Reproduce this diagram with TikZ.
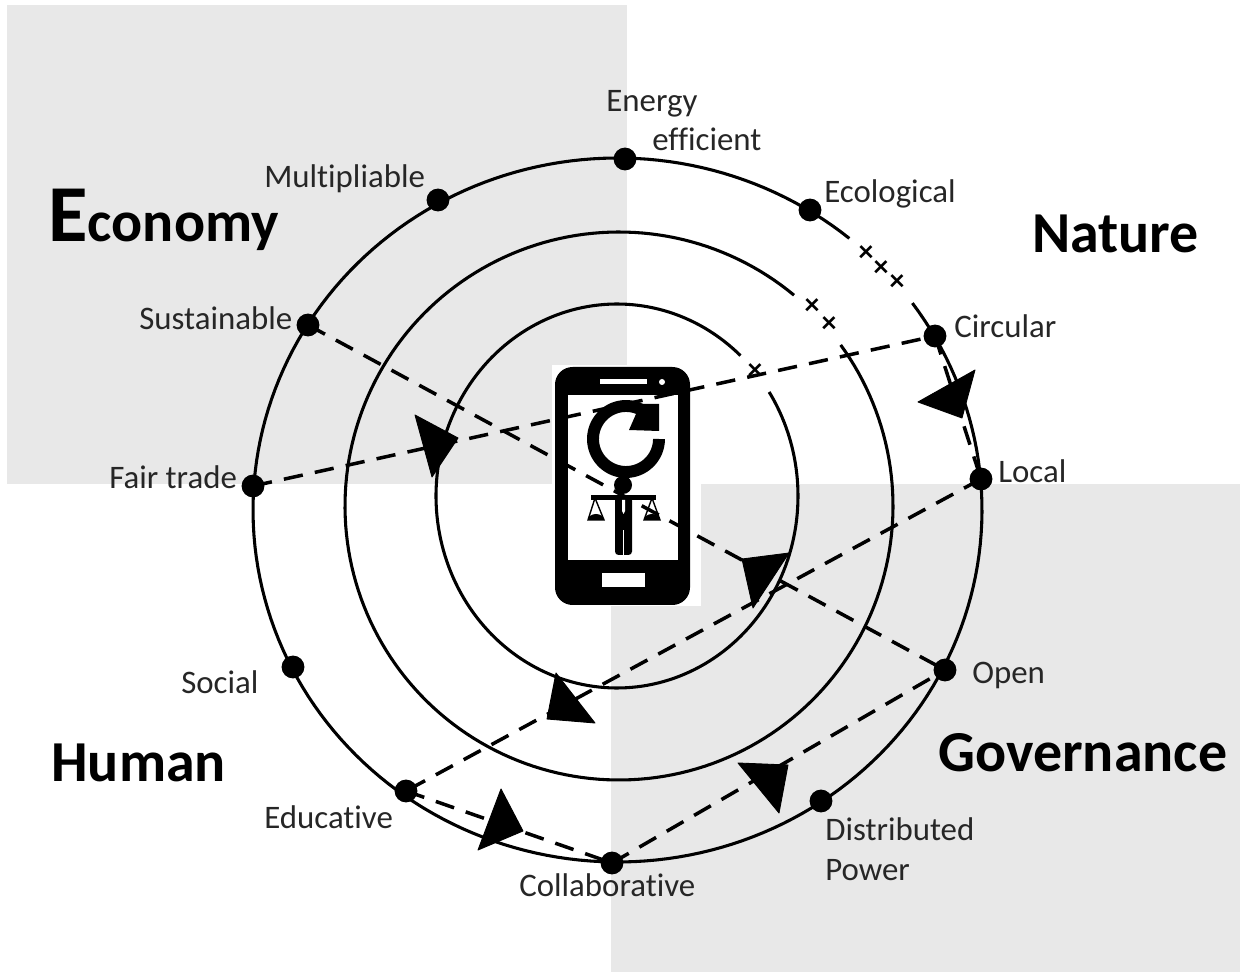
\documentclass[tikz,border=0pt]{standalone}
\usepackage{fontspec}
\setmainfont{Carlito}[Ligatures=NoCommon]
\definecolor{panel}{HTML}{E8E8E8}
\definecolor{ink}{HTML}{262626}
\tikzset{
  ring/.style={line width=1.75pt,black},
  dot/.style={circle,fill=black,inner sep=0pt,minimum size=13pt},
  link/.style={line width=2pt,black,dash pattern=on 11pt off 7pt},
  tip/.style={fill=black,draw=black,line width=.5pt,line join=round},
  lab/.style={anchor=base west,inner sep=0pt,yshift=-0.025cm,text=ink,font=\fontsize{18.7}{20}\selectfont},
  head/.style={anchor=base west,inner sep=0pt,yshift=-0.04cm,text=black,font=\fontsize{33}{36}\selectfont\bfseries},
  tick/.style={font=\bfseries\fontsize{17}{17}\selectfont,inner sep=0pt},
}
\begin{document}
\begin{tikzpicture}[x=0.02cm,y=-0.02cm]
\useasboundingbox (0,0) rectangle (1241,972);
% panels
\fill[panel] (7,5) rectangle (627,484);
\fill[panel] (611,484) rectangle (1240,972);
\fill[white] (552,365) rectangle (701,606);
% rings
\draw[ring,domain=-36:309.5,samples=200] plot ({617.5+364.5*cos(\x)},{510+352*sin(\x)});
\draw[ring,domain=-36:309.7,samples=200] plot ({619+274*cos(\x)},{506+274*sin(\x)});
\draw[ring,domain=-32.8:313,samples=200] plot ({617+181*cos(\x)},{496+192*sin(\x)});
% gap marks
\foreach \p in {(866,254),(881,269),(897,283),(812,307),(829,325),(755,372)}
  \node[tick] at \p {×};
% dots
\node[dot] (energy) at (625,159) {};
\node[dot] (multi) at (438,200) {};
\node[dot] (eco) at (810,210) {};
\node[dot] (sust) at (308,325) {};
\node[dot] (circ) at (935,336) {};
\node[dot] (fair) at (253,486) {};
\node[dot] (local) at (981,479) {};
\node[dot] (social) at (293,667) {};
\node[dot] (open) at (945,670) {};
\node[dot] (edu) at (406,791) {};
\node[dot] (dist) at (821,801) {};
\node[dot] (coll) at (612,863) {};
% phone body
\fill[black,rounded corners=10pt] (555,367) rectangle (690,605);
\fill[white] (568,395) rectangle (678,560);
\fill[white] (600,379) rectangle (647,384);
\fill[white] (662,382) circle (3);
\fill[white] (602,573) rectangle (645,587);
% links
\draw[link] (sust.center) -- (open.center);
\draw[link] (fair.center) -- (circ.center);
\draw[link] (circ.center) -- (local.center);
\draw[link] (local.center) -- (edu.center);
\draw[link] (edu.center) -- (coll.center);
\draw[link] (coll.center) -- (open.center);
% arrow heads
\draw[tip] (415,415) -- (458,438) -- (432,477) -- cycle;
\draw[tip] (975,370) -- (918,402) -- (962,418) -- cycle;
\draw[tip] (742,559) -- (789,553) -- (753,608) -- cycle;
\draw[tip] (556,673) -- (547,719) -- (595,723) -- cycle;
\draw[tip] (501,789) -- (523,831) -- (478,850) -- cycle;
\draw[tip] (738,763) -- (788,765) -- (779,813) -- cycle;
% refresh icon
\draw[black,line width=6.8pt,domain=0:300,samples=80] plot ({626+33*cos(\x)},{439+33*sin(\x)});
\fill[black] (638,404) -- (659,404) -- (659,431) -- (629,430) -- (636,414) -- cycle;
% person
\fill[black] (623,485) circle (9);
\fill[black] (591,495) rectangle (656,500);
\fill[black,rounded corners=2pt] (615,497) rectangle (632,555);
\fill[white] (622.5,530) rectangle (624,556);
\fill[white] (622,500) -- (625,500) -- (625,511) -- (623.5,514) -- (622,511) -- cycle;
% scales
\draw[black,line width=.8pt] (595,498) -- (588,520) -- (604,520) -- cycle;
\fill[black] (588,520) arc[start angle=180,end angle=360,x radius=8,y radius=6] -- cycle;
\draw[black,line width=.8pt] (652,498) -- (644,520) -- (660,520) -- cycle;
\fill[black] (644,520) arc[start angle=180,end angle=360,x radius=8,y radius=6] -- cycle;
% labels
\node[lab] (tenergy) at (606,110) {Energy};
\node[lab] (teff) at (652,149) {efficient};
\node[lab] (tmulti) at (264,186) {Multipliable};
\node[lab] (teco) at (824,201) {Ecological};
\node[lab] (tsust) at (139,328) {Sustainable};
\node[lab] (tcirc) at (954,336) {Circular};
\node[lab] (tfair) at (109,487) {Fair trade};
\node[lab] (tlocal) at (998,481) {Local};
\node[lab] (tsocial) at (181,692) {Social};
\node[lab] (topen) at (972,682) {Open};
\node[lab] (tedu) at (264,827) {Educative};
\node[lab] (tcoll) at (519,895) {Collaborative};
\node[lab] (tdist) at (825,839) {Distributed};
\node[lab] (tpow) at (825,879) {Power};
\node[head] (heco) at (48,240) {{\fontsize{46}{46}\selectfont E}conomy};
\node[head] (hnat) at (1032,251) {Nature};
\node[head] (hhum) at (51,780) {Human};
\node[head] (hgov) at (938,770) {Governance};
\end{tikzpicture}
\end{document}
